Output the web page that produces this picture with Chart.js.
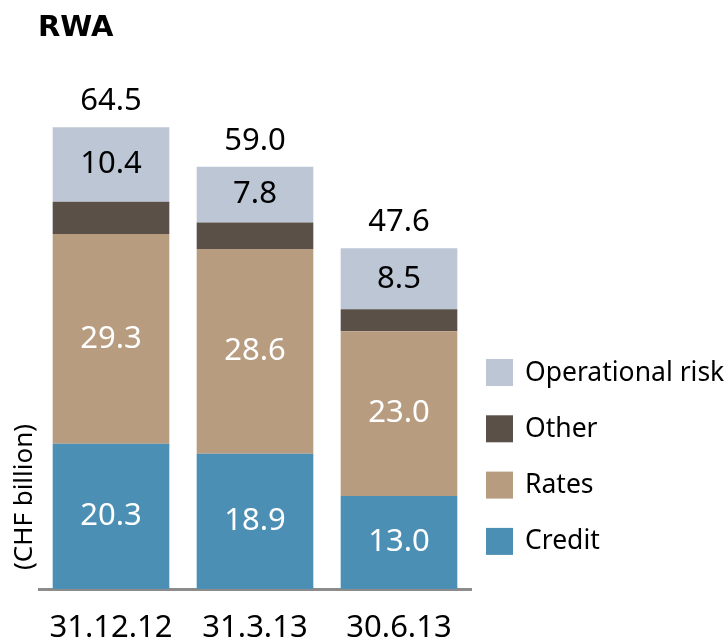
<!DOCTYPE html>
<html>
<head>
<meta charset="utf-8">
<script src="https://cdn.jsdelivr.net/npm/chart.js@4/dist/chart.umd.min.js"></script>
<style>
  html, body { margin: 0; padding: 0; background: #fff; }
  #wrap { width: 728px; height: 643px; }
</style>
</head>
<body>
<div id="wrap"><canvas id="chart1"></canvas></div>
<script>
const categories = ['31.12.12', '31.3.13', '30.6.13'];
const credit = [20.3, 18.9, 13.0];
const rates = [29.3, 28.6, 23.0];
const other = [4.5, 3.7, 3.1];
const opRisk = [10.4, 7.8, 8.5];
const totals = [64.5, 59.0, 47.6];

const FONT = '"Noto Sans", "Open Sans", sans-serif';

// value labels inside the segments and totals on top
const labelPlugin = {
    id: 'labels',
    afterDatasetsDraw(chart) {
        const ctx = chart.ctx;
        ctx.save();
        ctx.font = '31px ' + FONT;
        ctx.textAlign = 'center';
        ctx.textBaseline = 'middle';
        chart.data.datasets.forEach((ds, i) => {
            if (!ds.labelColor) return;
            chart.getDatasetMeta(i).data.forEach((bar, j) => {
                ctx.fillStyle = ds.labelColor;
                ctx.fillText(ds.data[j].toFixed(1), bar.x, (bar.y + bar.base) / 2);
            });
        });
        const top = chart.getDatasetMeta(chart.data.datasets.length - 1).data;
        ctx.fillStyle = '#000';
        ctx.textBaseline = 'alphabetic';
        top.forEach((bar, j) => {
            ctx.fillText(totals[j].toFixed(1), bar.x, bar.y - 17);
        });
        ctx.restore();
    }
};

// title, axis caption and legend
const decoPlugin = {
    id: 'deco',
    afterDraw(chart) {
        const ctx = chart.ctx;
        ctx.save();
        ctx.fillStyle = '#000';
        ctx.font = 'bold 29px "DejaVu Sans", sans-serif';
        ctx.textAlign = 'left';
        ctx.textBaseline = 'alphabetic';
        ctx.fillText('RWA', 38, 36);

        ctx.save();
        ctx.translate(32, 497);
        ctx.rotate(-Math.PI / 2);
        ctx.font = '26px ' + FONT;
        ctx.textAlign = 'center';
        ctx.textBaseline = 'alphabetic';
        ctx.fillText('(CHF billion)', 0, 0);
        ctx.restore();

        const items = chart.data.datasets.slice().reverse();
        ctx.font = '26.5px ' + FONT;
        ctx.textBaseline = 'middle';
        items.forEach((ds, i) => {
            const y = 359 + i * 56.3;
            ctx.fillStyle = ds.backgroundColor;
            ctx.fillRect(486, y, 27, 27);
            ctx.fillStyle = '#000';
            ctx.fillText(ds.label, 525, y + 14);
        });
        ctx.restore();
    }
};

new Chart(document.getElementById('chart1'), {
    type: 'bar',
    data: {
        labels: categories,
        datasets: [
            { label: 'Credit', data: credit, backgroundColor: '#4b8fb4', labelColor: '#fff' },
            { label: 'Rates', data: rates, backgroundColor: '#b89c80', labelColor: '#fff' },
            { label: 'Other', data: other, backgroundColor: '#5a5048' },
            { label: 'Operational risk', data: opRisk, backgroundColor: '#bcc6d5', labelColor: '#000' }
        ]
    },
    options: {
        responsive: true,
        maintainAspectRatio: false,
        animation: false,
        layout: { padding: { top: 88, left: 39, right: 257, bottom: 0 } },
        plugins: {
            legend: { display: false },
            title: { display: false },
            tooltip: { enabled: false }
        },
        datasets: { bar: { barPercentage: 0.81, categoryPercentage: 1 } },
        scales: {
            x: {
                stacked: true,
                grid: { display: false, drawTicks: false },
                border: { display: true, color: '#8c8c8c', width: 3 },
                ticks: { color: '#000', font: { family: FONT, size: 31, lineHeight: 1 }, padding: 24 },
                afterFit(scale) { scale.height = 54; }
            },
            y: {
                stacked: true,
                display: false,
                min: 0,
                max: 70
            }
        }
    },
    plugins: [labelPlugin, decoPlugin]
});
</script>
</body>
</html>
